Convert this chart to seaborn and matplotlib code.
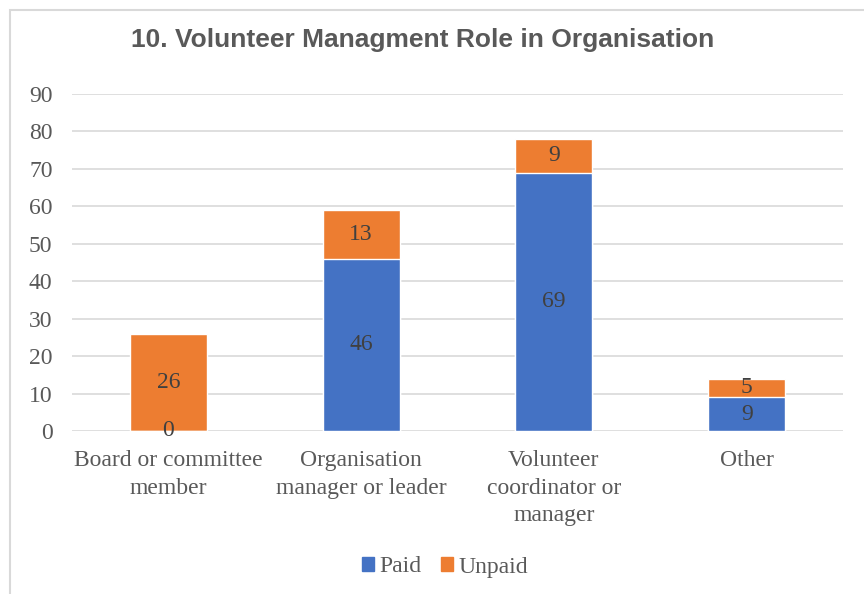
import matplotlib
matplotlib.use('Agg')
import matplotlib.pyplot as plt
from matplotlib.patches import Rectangle, Patch
import seaborn as sns
import pandas as pd

categories = ['Board or committee\nmember', 'Organisation\nmanager or leader',
              'Volunteer\ncoordinator or\nmanager', 'Other']
paid = [0, 46, 69, 9]
unpaid = [26, 13, 9, 5]
yticks = [0, 10, 20, 30, 40, 50, 60, 70, 80, 90]

BLUE = '#4472C4'
ORANGE = '#ED7D31'
TXT = '#595959'

sns.set_theme(style='white')
plt.rcParams['font.family'] = ['Liberation Serif', 'DejaVu Serif']

df = pd.DataFrame({'cat': categories, 'paid': paid, 'unpaid': unpaid})
df['total'] = df['paid'] + df['unpaid']

fig = plt.figure(figsize=(8.64, 5.94), dpi=100)
ax = fig.add_axes([72 / 864, 1 - 431 / 594, 771 / 864, 337 / 594])

sns.barplot(data=df, x='cat', y='total', color=ORANGE, width=0.4, saturation=1, ax=ax, zorder=2)
sns.barplot(data=df, x='cat', y='paid', color=BLUE, width=0.4, saturation=1, ax=ax, zorder=3)

ax.set_ylim(0, 90)
ax.set_xlim(-0.5, 3.5)
ax.set_yticks(yticks)
ax.yaxis.grid(True, color='#d9d9d9', lw=1.2, zorder=0)
ax.set_axisbelow(True)
for s in ax.spines.values():
    s.set_visible(False)
ax.tick_params(axis='both', length=0, labelsize=17, colors=TXT)
ax.tick_params(axis='x', pad=14)
ax.tick_params(axis='y', pad=14)
ax.set_xlabel('')
ax.set_ylabel('')
for lbl in ax.get_xticklabels():
    lbl.set_linespacing(1.4)
    lbl.set_verticalalignment('top')

for i, (p, u) in enumerate(zip(paid, unpaid)):
    ax.text(i, p / 2, str(p), ha='center', va='center', fontsize=17, color='#404040', zorder=5)
    ax.text(i, p + u / 2, str(u), ha='center', va='center', fontsize=17, color='#404040', zorder=5)

fig.text(423 / 864, 1 - 40 / 594, '10. Volunteer Managment Role in Organisation',
         ha='center', va='center', fontsize=19, fontweight='bold', color=TXT,
         family=['Liberation Sans', 'DejaVu Sans'])

handles = [Patch(color=BLUE, label='Paid'), Patch(color=ORANGE, label='Unpaid')]
fig.legend(handles=handles, loc='center', bbox_to_anchor=(445 / 864, 1 - 567 / 594), ncol=2,
           frameon=False, fontsize=17, handlelength=0.5, handleheight=0.5,
           handletextpad=0.25, columnspacing=0.8, labelcolor=TXT)

fig.patches.append(Rectangle((10 / 864, -0.1), 1.2, 1 - 10 / 594 + 0.1, transform=fig.transFigure,
                             fill=False, edgecolor='#d9d9d9', lw=1.5))

fig.savefig('out.png', dpi=100)
